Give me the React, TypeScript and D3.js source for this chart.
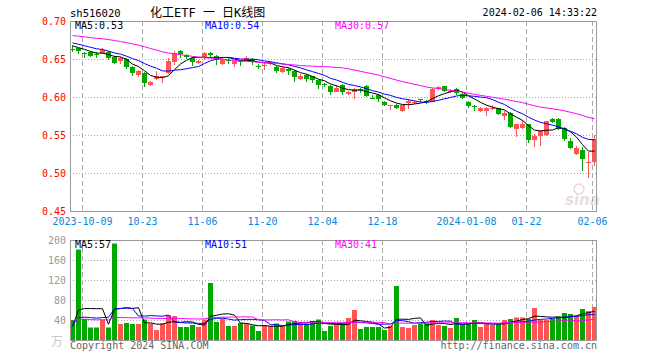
import React from 'react';
import * as d3 from 'd3';

const dates = [
  '2023-09-27','2023-09-28',
  '2023-10-09','2023-10-10','2023-10-11','2023-10-12','2023-10-13',
  '2023-10-16','2023-10-17','2023-10-18','2023-10-19','2023-10-20',
  '2023-10-23','2023-10-24','2023-10-25','2023-10-26','2023-10-27',
  '2023-10-30','2023-10-31','2023-11-01','2023-11-02','2023-11-03',
  '2023-11-06','2023-11-07','2023-11-08','2023-11-09','2023-11-10',
  '2023-11-13','2023-11-14','2023-11-15','2023-11-16','2023-11-17',
  '2023-11-20','2023-11-21','2023-11-22','2023-11-23','2023-11-24',
  '2023-11-27','2023-11-28','2023-11-29','2023-11-30','2023-12-01',
  '2023-12-04','2023-12-05','2023-12-06','2023-12-07','2023-12-08',
  '2023-12-11','2023-12-12','2023-12-13','2023-12-14','2023-12-15',
  '2023-12-18','2023-12-19','2023-12-20','2023-12-21','2023-12-22',
  '2023-12-25','2023-12-26','2023-12-27','2023-12-28','2023-12-29',
  '2024-01-02','2024-01-03','2024-01-04','2024-01-05',
  '2024-01-08','2024-01-09','2024-01-10','2024-01-11','2024-01-12',
  '2024-01-15','2024-01-16','2024-01-17','2024-01-18','2024-01-19',
  '2024-01-22','2024-01-23','2024-01-24','2024-01-25','2024-01-26',
  '2024-01-29','2024-01-30','2024-01-31','2024-02-01','2024-02-02',
  '2024-02-05','2024-02-06',
];

const open = [
  0.663,0.664,0.658,0.659,0.656,0.658,0.659,0.653,0.647,0.650,
  0.640,0.629,0.632,0.616,0.624,0.626,0.631,0.646,0.661,0.655,
  0.651,0.645,0.651,0.658,0.654,0.643,0.649,0.643,0.647,0.648,
  0.650,0.641,0.641,0.644,0.640,0.633,0.637,0.634,0.624,0.629,
  0.627,0.622,0.617,0.615,0.607,0.616,0.604,0.607,0.610,0.615,
  0.599,0.603,0.594,0.589,0.590,0.581,0.592,0.593,0.597,0.595,
  0.594,0.610,0.614,0.607,0.611,0.604,0.594,0.588,0.581,0.582,
  0.585,0.585,0.575,0.579,0.558,0.559,0.564,0.544,0.549,0.550,
  0.571,0.571,0.559,0.542,0.525,0.530,0.514,0.515,
];
const high = [
  0.668,0.665,0.659,0.660,0.659,0.664,0.660,0.654,0.652,0.651,
  0.641,0.635,0.633,0.621,0.634,0.628,0.651,0.661,0.662,0.656,
  0.652,0.649,0.659,0.659,0.655,0.653,0.651,0.648,0.649,0.654,
  0.651,0.643,0.645,0.647,0.641,0.639,0.638,0.635,0.630,0.630,
  0.628,0.623,0.619,0.616,0.616,0.617,0.608,0.612,0.612,0.616,
  0.603,0.604,0.595,0.590,0.591,0.590,0.598,0.596,0.598,0.596,
  0.612,0.615,0.615,0.611,0.612,0.606,0.595,0.590,0.587,0.587,
  0.589,0.586,0.582,0.580,0.565,0.570,0.565,0.551,0.556,0.569,
  0.573,0.572,0.560,0.546,0.535,0.534,0.528,0.550,
];
const low = [
  0.659,0.657,0.651,0.652,0.651,0.657,0.649,0.643,0.644,0.637,
  0.627,0.626,0.613,0.615,0.622,0.619,0.630,0.642,0.651,0.650,
  0.641,0.644,0.649,0.651,0.642,0.642,0.644,0.639,0.641,0.647,
  0.642,0.637,0.635,0.642,0.632,0.632,0.629,0.620,0.623,0.620,
  0.618,0.610,0.613,0.603,0.606,0.602,0.603,0.597,0.605,0.600,
  0.598,0.594,0.588,0.583,0.584,0.580,0.584,0.591,0.593,0.591,
  0.593,0.609,0.607,0.605,0.603,0.597,0.586,0.581,0.580,0.575,
  0.583,0.576,0.570,0.559,0.547,0.558,0.540,0.534,0.536,0.549,
  0.566,0.557,0.542,0.531,0.524,0.502,0.493,0.509,
];
const close = [
  0.662,0.661,0.657,0.654,0.655,0.662,0.651,0.645,0.651,0.639,
  0.631,0.634,0.618,0.620,0.628,0.627,0.647,0.658,0.657,0.652,
  0.646,0.648,0.658,0.655,0.649,0.650,0.648,0.647,0.646,0.651,
  0.646,0.640,0.642,0.645,0.634,0.638,0.634,0.626,0.628,0.624,
  0.623,0.616,0.616,0.607,0.612,0.607,0.607,0.611,0.609,0.601,
  0.598,0.597,0.589,0.590,0.586,0.589,0.595,0.594,0.596,0.594,
  0.611,0.613,0.608,0.608,0.605,0.599,0.588,0.587,0.586,0.586,
  0.586,0.578,0.579,0.560,0.564,0.565,0.544,0.549,0.555,0.568,
  0.567,0.558,0.545,0.533,0.533,0.518,0.515,0.545,
];
// volume in 万
const volume = [
  40,181,42,25,25,40,25,193,32,34,
  32,32,41,33,20,33,50,48,26,26,
  30,26,41,114,36,43,28,28,34,33,
  29,18,30,28,33,28,37,38,36,33,
  38,41,18,28,33,33,44,60,22,26,
  26,26,20,28,108,26,24,30,33,33,
  40,30,28,24,44,32,32,40,26,33,
  30,32,40,42,45,45,42,64,40,40,
  42,46,54,52,48,62,58,66,
];
// sessions before the visible window (needed for the moving averages)
const priorCloses = [
  0.680,0.684,0.687,0.683,0.679,0.682,0.686,0.688,0.684,0.680,
  0.681,0.682,0.690,0.694,0.695,0.692,0.690,0.691,0.684,0.680,
  0.678,0.676,0.675,0.674,0.672,0.672,0.669,0.667,0.666,
];
const priorVolumes = [
  38,45,52,36,30,41,48,35,44,39,
  33,47,42,36,40,50,38,35,42,39,
  36,30,34,35,30,18,25,26,26,
];

const tickDates = ['2023-10-09','2023-10-23','2023-11-06','2023-11-20','2023-12-04','2023-12-18','2024-01-08','2024-01-22','2024-02-06'];
const tickLabels = ['2023-10-09','10-23','11-06','11-20','12-04','12-18','2024-01-08','01-22','02-06'];
const priceTicks = [0.70, 0.65, 0.60, 0.55, 0.50, 0.45];
const volumeTicks = [200, 160, 120, 80, 40];
const maPeriods = [5, 10, 30];
const maColors = ['#000000', '#0000ff', '#ff00ff'];

const RED = '#ff5555';
const GREEN = '#00a800';
const MONO = '"DejaVu Sans Mono", "Liberation Mono", monospace';

function movingAverage(prior: number[], values: number[], n: number): number[] {
  const all = prior.concat(values);
  const off = prior.length;
  return values.map((_, i) => d3.mean(all.slice(off + i - n + 1, off + i + 1)) as number);
}

export default function App() {
  const W = 660, H = 360;
  const left = 70, right = 597;
  const idx = d3.range(dates.length);
  const x = d3.scaleBand<number>().domain(idx).range([69.5, 597.5]).paddingInner(1 / 6).paddingOuter(1 / 12);
  const bw = x.bandwidth();
  const y = d3.scaleLinear().domain([0.45, 0.70]).range([211, 21]);
  const yv = d3.scaleLinear().domain([0, 200]).range([340, 240]);

  const priceMA = maPeriods.map((n) => movingAverage(priorCloses, close, n));
  const volMA = maPeriods.map((n) => movingAverage(priorVolumes, volume, n));
  const cx = (i: number) => (x(i) as number) + bw / 2;
  const priceLine = d3.line<number>().x((_, i) => cx(i)).y((v) => y(v));
  const volLine = d3.line<number>().x((_, i) => cx(i)).y((v) => yv(v));

  const tickIdx = tickDates.map((d) => dates.indexOf(d));
  const last = dates.length - 1;
  const fmt2 = d3.format('.2f');

  return (
    <svg width={W} height={H} style={{ position: 'absolute', left: 0, top: 0, background: '#fff' }} fontFamily={MONO}>
      <rect x={0} y={0} width={W} height={H} fill="#fff" />
      {/* header */}
      <text x={70} y={17} fontSize={10.5} fill="#000">sh516020</text>
      <text x={150} y={17} fontSize={12} fill="#000" fontFamily={'"DejaVu Sans Mono", "Noto Sans CJK SC", monospace'}>化工ETF 一 日K线图</text>
      <text x={597} y={16} fontSize={10} fill="#000" textAnchor="end">2024-02-06 14:33:22</text>

      {/* price grid */}
      {priceTicks.slice(1, -1).map((t) => (
        <line key={'pg' + t} x1={left} x2={right} y1={y(t) + 0.5} y2={y(t) + 0.5} stroke="#aaa" strokeDasharray="1,2" />
      ))}
      {tickIdx.map((k) => (
        <line key={'pv' + k} x1={(x(k) as number) + 0.5} x2={(x(k) as number) + 0.5} y1={21} y2={211} stroke="#aaa" strokeDasharray="5,3" />
      ))}
      {/* volume grid */}
      {volumeTicks.slice(1).map((t) => (
        <line key={'vg' + t} x1={left} x2={right} y1={yv(t) + 0.5} y2={yv(t) + 0.5} stroke="#aaa" strokeDasharray="1,2" />
      ))}
      {tickIdx.map((k) => (
        <line key={'vv' + k} x1={(x(k) as number) + 0.5} x2={(x(k) as number) + 0.5} y1={240} y2={340} stroke="#aaa" strokeDasharray="5,3" />
      ))}

      {/* sina watermark */}
      <g opacity={0.35}>
        <circle cx={579} cy={189} r={5} fill="none" stroke="#e08080" strokeWidth={1.5} />
        <text x={565} y={205} fontSize={15} fontStyle="italic" fontWeight="bold" fill="#c8a0a0" fontFamily="Verdana, DejaVu Sans, sans-serif">sina</text>
      </g>

      {/* candles */}
      {idx.map((i) => {
        const up = close[i] >= open[i];
        const col = up ? RED : GREEN;
        const top = Math.round(y(Math.max(open[i], close[i])));
        const bot = Math.round(y(Math.min(open[i], close[i])));
        const xi = x(i) as number;
        return (
          <g key={'c' + i}>
            <line x1={xi + bw / 2} x2={xi + bw / 2} y1={Math.round(y(high[i]))} y2={Math.round(y(low[i]))} stroke={col} strokeWidth={1} />
            <rect x={xi} y={top} width={bw} height={Math.max(1, bot - top)} fill={col} />
          </g>
        );
      })}
      {priceMA.map((m, j) => (
        <path key={'pm' + j} d={priceLine(m) || ''} fill="none" stroke={maColors[j]} strokeWidth={1} />
      ))}

      {/* volume bars */}
      {idx.map((i) => {
        const up = close[i] >= open[i];
        const xi = x(i) as number;
        return <rect key={'v' + i} x={xi} y={yv(volume[i])} width={bw} height={yv(0) - yv(volume[i])} fill={up ? RED : GREEN} />;
      })}
      {volMA.map((m, j) => (
        <path key={'vm' + j} d={volLine(m) || ''} fill="none" stroke={maColors[j]} strokeWidth={1} />
      ))}

      {/* panel borders */}
      <rect x={70.5} y={21.5} width={526} height={190} fill="none" stroke="#999" />
      <rect x={70.5} y={240.5} width={526} height={100} fill="none" stroke="#999" />

      {/* price axis labels */}
      {priceTicks.map((t) => (
        <text key={'pl' + t} x={66} y={y(t) + 4} fontSize={10} fill="#ff0000" textAnchor="end">{fmt2(t)}</text>
      ))}
      {/* date labels */}
      {tickIdx.map((k, j) => (
        <text key={'dl' + k} x={(x(k) as number) + 0.5} y={225} fontSize={10} fill="#0a88d8" textAnchor="middle">{tickLabels[j]}</text>
      ))}
      {/* volume axis labels */}
      {volumeTicks.map((t) => (
        <text key={'vl' + t} x={66} y={yv(t) + 4} fontSize={10} fill="#999" textAnchor="end">{t}</text>
      ))}
      <text x={63} y={346} fontSize={12} fill="#c8c8c8" textAnchor="end" fontFamily='"Noto Sans CJK SC", sans-serif'>万</text>

      {/* legends */}
      {maPeriods.map((n, j) => (
        <text key={'lg' + n} x={75 + j * 130} y={29} fontSize={10} fill={maColors[j]}>{`MA${n}:${fmt2(priceMA[j][last])}`}</text>
      ))}
      {maPeriods.map((n, j) => (
        <text key={'lv' + n} x={75 + j * 130} y={248} fontSize={10} fill={maColors[j]}>{`MA${n}:${Math.round(volMA[j][last])}`}</text>
      ))}

      {/* footer */}
      <text x={70} y={349} fontSize={10} fill="#666">Copyright 2024 SINA.COM</text>
      <text x={597} y={349} fontSize={10} fill="#666" textAnchor="end">http://finance.sina.com.cn</text>
    </svg>
  );
}
